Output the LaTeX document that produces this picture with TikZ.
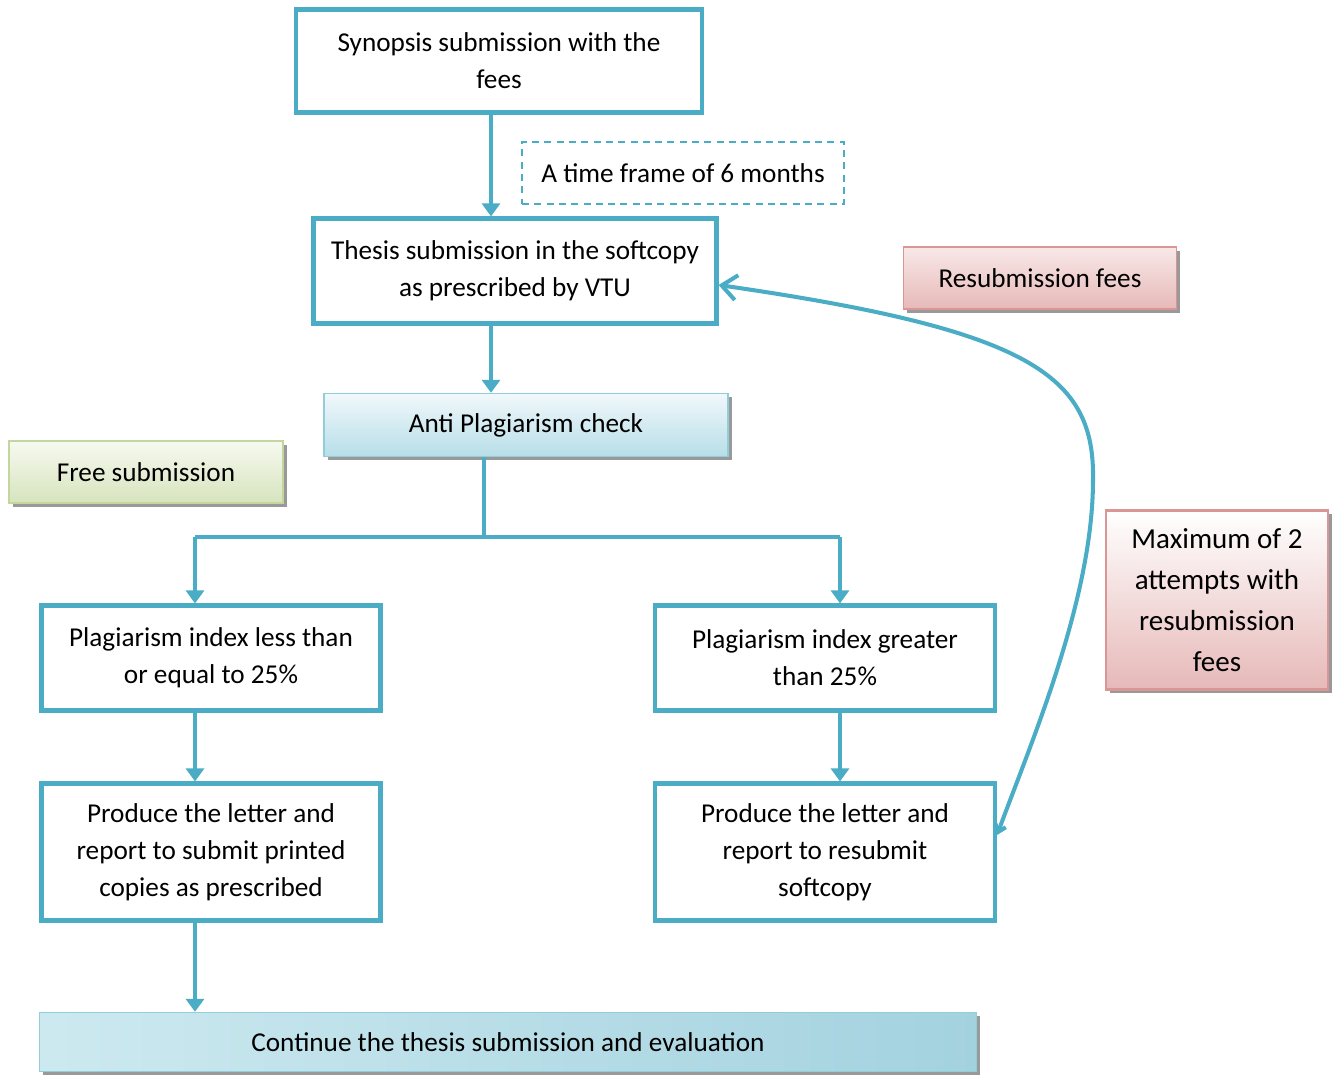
\documentclass[tikz,border=0pt]{standalone}
\usepackage{fontspec}
\setmainfont{Carlito}
\usetikzlibrary{arrows.meta,shadows,positioning}

\definecolor{accent}{RGB}{75,172,198}
\definecolor{bluetop}{RGB}{241,248,251}
\definecolor{bluebot}{RGB}{183,222,232}
\definecolor{blueline}{RGB}{146,205,220}
\definecolor{contl}{RGB}{205,233,240}
\definecolor{contm}{RGB}{226,242,247}
\definecolor{contr}{RGB}{163,210,223}
\definecolor{greentop}{RGB}{246,249,240}
\definecolor{greenbot}{RGB}{215,228,189}
\definecolor{greenline}{RGB}{195,214,155}
\definecolor{redtop}{RGB}{249,232,232}
\definecolor{redbot}{RGB}{230,185,184}
\definecolor{redline}{RGB}{217,150,148}

\begin{document}
\begin{tikzpicture}[x=0.02cm,y=-0.02cm,
    txt/.style={font=\fontsize{15.5}{21}\selectfont, align=center, inner sep=0pt},
    stepbox/.style={txt, draw=accent, line width=2.4pt, fill=white},
    note/.style={txt, draw=accent, line width=0.9pt, dash pattern=on 4pt off 3pt},
    shade/.style={drop shadow={shadow xshift=2.2pt, shadow yshift=-2.2pt, fill=black!40, opacity=1}},
    bluebox/.style={txt, shade, draw=blueline, line width=0.8pt, top color=bluetop, bottom color=bluebot},
    greenbox/.style={txt, shade, draw=greenline, line width=0.9pt, top color=greentop, bottom color=greenbot},
    redbox/.style={txt, shade, draw=redline, line width=0.9pt, top color=redtop, bottom color=redbot},
    flow/.style={accent, line width=2.3pt, -{Triangle[length=0.26cm, width=0.36cm]}},
    link/.style={accent, line width=2.3pt},
    back/.style={accent, line width=2.3pt, {Straight Barb[length=0.14cm, width=0.22cm]}-{Straight Barb[length=0.3cm, width=0.5cm]}}
  ]
  \useasboundingbox (0,0) rectangle (1340,1078);

  % main column
  \node[stepbox, minimum width=8.12cm, minimum height=2.06cm] at (499,61) (synopsis) {Synopsis submission with the\\fees};
  \node[note, minimum width=6.44cm, minimum height=1.24cm] at (683,173) (timeframe) {A time frame of 6 months};
  \node[stepbox, minimum width=8.06cm, minimum height=2.1cm] at (515,271) (thesis) {Thesis submission in the softcopy\\as prescribed by VTU};
  \node[bluebox, minimum width=8.08cm, minimum height=1.26cm] at (526,425) (anti) {Anti Plagiarism check};

  % side notes
  \node[greenbox, minimum width=5.48cm, minimum height=1.24cm] at (146,472) (free) {Free submission};
  \node[redbox, minimum width=5.46cm, minimum height=1.24cm] at (1040,278) (resub) {Resubmission fees};
  \node[redbox, top color=white, font=\fontsize{16.5}{23.2}\selectfont, line width=1.3pt,
        minimum width=4.44cm, minimum height=3.58cm] at (1217,600) (maxtry) {Maximum of 2\\attempts with\\resubmission\\fees};

  % two branches
  \node[stepbox, minimum width=6.78cm, minimum height=2.1cm] at (211,658) (lessidx) {Plagiarism index less than\\or equal to 25\%};
  \node[stepbox, minimum width=6.8cm, minimum height=2.1cm] at (825,658) (moreidx) {Plagiarism index greater\\than 25\%};
  \node[stepbox, minimum width=6.78cm, minimum height=2.74cm] at (211,852) (prodL) {Produce the letter and\\report to submit printed\\copies as prescribed};
  \node[stepbox, minimum width=6.8cm, minimum height=2.74cm] at (825,852) (prodR) {Produce the letter and\\report to resubmit\\softcopy};
  \node[txt, shade, draw=blueline, line width=0.8pt, left color=contl, middle color=contm, right color=contr,
        minimum width=18.74cm, minimum height=1.18cm] at (508,1042) (cont) {Continue the thesis submission and evaluation};

  \coordinate (trunk) at (491,170);
  \coordinate (split) at (484,537);
  \coordinate (lbr) at (195,537);
  \coordinate (rbr) at (840,537);

  \draw[flow] (synopsis.south -| trunk) -- (thesis.north -| trunk);
  \draw[flow] (thesis.south -| trunk) -- (anti.north -| trunk);
  \draw[link] (anti.south -| split) -- (split);
  \draw[link] (lbr) -- (rbr);
  \draw[flow] (lbr) -- (lbr |- lessidx.north);
  \draw[flow] (rbr) -- (rbr |- moreidx.north);
  \draw[flow] (lbr |- lessidx.south) -- (lbr |- prodL.north);
  \draw[flow] (rbr |- moreidx.south) -- (rbr |- prodR.north);
  \draw[flow] (lbr |- prodL.south) -- (lbr |- cont.north);

  % resubmission loop
  \draw[back] ([yshift=0.34cm]prodR.east) .. controls (1030,745) and (1093,600) .. (1093,480)
    .. controls (1095,375) and (1030,330) .. ([yshift=-0.28cm]thesis.east);
\end{tikzpicture}
\end{document}
